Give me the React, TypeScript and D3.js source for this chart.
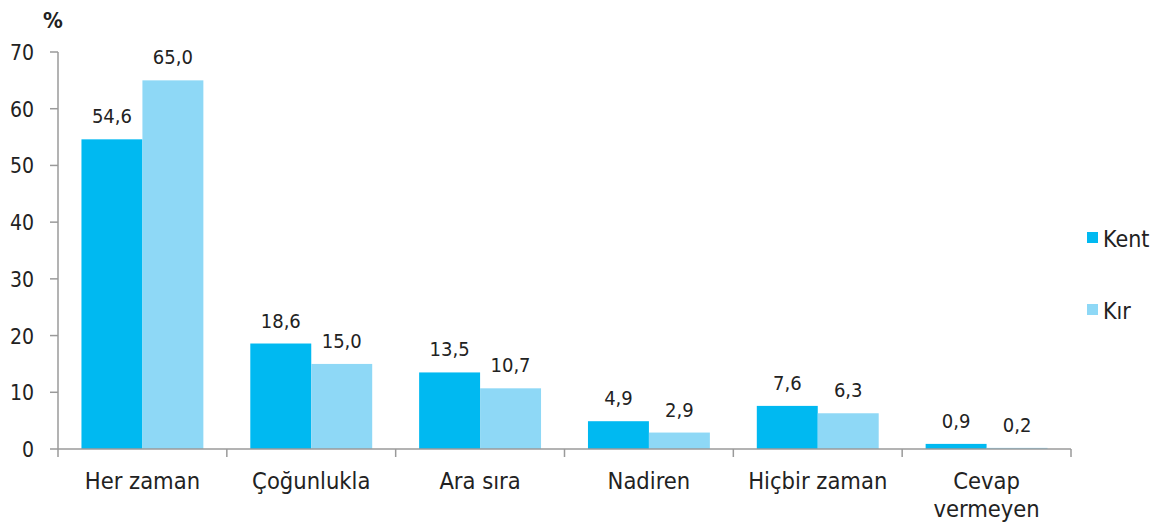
import React from "react";
import * as d3 from "d3";

const categories = ["Her zaman", "Çoğunlukla", "Ara sıra", "Nadiren", "Hiçbir zaman", "Cevap\nvermeyen"];
const kent = [54.6, 18.6, 13.5, 4.9, 7.6, 0.9];
const kir = [65.0, 15.0, 10.7, 2.9, 6.3, 0.2];
const seriesNames = ["Kent", "Kır"];
const colors = ["#00B9F1", "#8ED8F6"];
const yTicks = [0, 10, 20, 30, 40, 50, 60, 70];

export default function App() {
  const W = 1159, H = 524;
  const left = 58, right = 1071, top = 52, bottom = 449;
  const font = "'DejaVu Sans Condensed', 'DejaVu Sans', sans-serif";
  const x = d3.scaleBand<string>().domain(categories).range([left, right]).paddingInner(0).paddingOuter(0);
  const y = d3.scaleLinear().domain([0, 70]).range([bottom, top]);
  const bw = x.bandwidth();
  const inner = d3.scaleBand<string>().domain(seriesNames).range([0, bw]).paddingInner(0).paddingOuter(0.385);
  const fmt = (v: number) => v.toFixed(1).replace(".", ",");
  const data = [kent, kir];
  return (
    <svg width={W} height={H} style={{ position: "absolute", left: 0, top: 0, fontFamily: font, fontStretch: "condensed" }}>
      <rect width={W} height={H} fill="#fff" />
      <text x={53} y={28} textAnchor="middle" fontSize={22} fontWeight="bold" fill="#222">%</text>
      {yTicks.map((t) => (
        <g key={t}>
          <line x1={left - 8} x2={left} y1={y(t)} y2={y(t)} stroke="#9a9a9a" strokeWidth={1.5} />
          <text x={left - 24} y={y(t) + 8} textAnchor="end" fontSize={21} fill="#222">{t}</text>
        </g>
      ))}
      {categories.map((c, i) =>
        data.map((s, j) => (
          <g key={c + j}>
            <rect x={x(c)! + inner(seriesNames[j])!} y={y(s[i])} width={inner.bandwidth()} height={bottom - y(s[i])} fill={colors[j]} />
            <text x={x(c)! + inner(seriesNames[j])! + inner.bandwidth() / 2} y={y(s[i]) - 16} textAnchor="middle" fontSize={20} fill="#222">{fmt(s[i])}</text>
          </g>
        ))
      )}
      <line x1={left} x2={left} y1={top} y2={bottom} stroke="#9a9a9a" strokeWidth={1.5} />
      <line x1={left} x2={right} y1={bottom} y2={bottom} stroke="#9a9a9a" strokeWidth={1.5} />
      {d3.range(categories.length + 1).map((k) => (
        <line key={k} x1={left + k * bw} x2={left + k * bw} y1={bottom} y2={bottom + 8} stroke="#9a9a9a" strokeWidth={1.5} />
      ))}
      {categories.map((c) => (
        <text key={c} x={x(c)! + bw / 2} y={489} textAnchor="middle" fontSize={23.5} fill="#222">
          {c.split("\n").map((ln, k) => (
            <tspan key={k} x={x(c)! + bw / 2} dy={k === 0 ? 0 : 28}>{ln}</tspan>
          ))}
        </text>
      ))}
      {seriesNames.map((n, j) => (
        <g key={n}>
          <rect x={1087} y={232 + j * 72} width={11} height={11} fill={colors[j]} />
          <text x={1103} y={247 + j * 72} fontSize={23} fill="#222">{n}</text>
        </g>
      ))}
    </svg>
  );
}
